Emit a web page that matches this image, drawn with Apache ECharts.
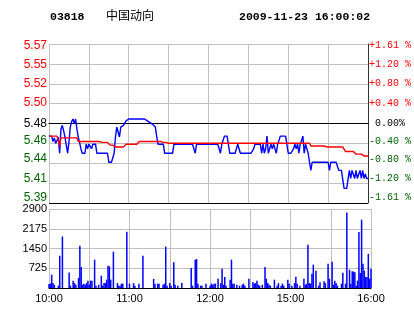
<!DOCTYPE html>
<html><head><meta charset="utf-8">
<script src="https://cdn.jsdelivr.net/npm/echarts@6/dist/echarts.min.js"></script>
<style>html,body{margin:0;padding:0;background:#fff}#c{width:414px;height:314px}</style>
</head><body><div id="c"></div>
<script>
const stockCode = '03818';
const stockName = '中国动向';
const stampText = '2009-11-23 16:00:02';
const prevClose = 5.48;
const pctRange = 1.61;
const volMax = 2900;

const priceTickLabels = ['5.39','5.41','5.44','5.46','5.48','5.50','5.52','5.55','5.57'];
const pctTickLabels = ['-1.61 %','-1.20 %','-0.80 %','-0.40 %',' 0.00%','+0.40 %','+0.80 %','+1.20 %','+1.61 %'];
const volTickLabels = ['', '725', '1450', '2175', '2900'];
const timeTickIndex = [0, 60, 120, 180, 240];
const timeTickText = ['10:00', '11:00', '12:00', '15:00', '16:00'];

// one category per trading minute: 10:00-12:30, 14:31-16:00
const times = [];
for (let i = 0; i <= 150; i++) { const t = 600 + i; times.push(String(Math.floor(t/60)).padStart(2,'0') + ':' + String(t%60).padStart(2,'0')); }
for (let i = 151; i <= 240; i++) { const t = 870 + (i - 150); times.push(String(Math.floor(t/60)).padStart(2,'0') + ':' + String(t%60).padStart(2,'0')); }

const price = [
5.466,5.466,5.466,5.460,5.464,5.458,5.461,5.465,5.447,5.474,
5.478,5.472,5.465,5.456,5.447,5.459,5.476,5.482,5.485,5.480,
5.485,5.474,5.465,5.459,5.452,5.447,5.447,5.447,5.457,5.452,
5.457,5.457,5.452,5.457,5.457,5.457,5.447,5.447,5.447,5.447,
5.447,5.447,5.447,5.447,5.447,5.437,5.437,5.437,5.437,5.447,
5.465,5.476,5.476,5.465,5.476,5.476,5.478,5.480,5.483,5.485,
5.485,5.485,5.485,5.485,5.485,5.485,5.485,5.485,5.485,5.485,
5.485,5.485,5.485,5.484,5.483,5.482,5.481,5.480,5.479,5.477,
5.476,5.466,5.457,5.457,5.457,5.457,5.457,5.447,5.447,5.447,
5.447,5.447,5.447,5.447,5.457,5.457,5.457,5.457,5.457,5.457,
5.457,5.457,5.457,5.457,5.457,5.457,5.457,5.457,5.457,5.457,
5.447,5.457,5.457,5.457,5.457,5.457,5.457,5.457,5.457,5.457,
5.457,5.457,5.457,5.457,5.457,5.457,5.457,5.457,5.457,5.447,
5.457,5.457,5.466,5.466,5.466,5.466,5.447,5.447,5.447,5.447,
5.447,5.447,5.457,5.452,5.447,5.447,5.447,5.447,5.447,5.447,
5.447,5.447,5.447,5.447,5.452,5.457,5.457,5.457,5.457,5.457,
5.447,5.457,5.447,5.452,5.466,5.447,5.452,5.457,5.452,5.457,
5.457,5.447,5.457,5.461,5.466,5.466,5.466,5.466,5.466,5.466,
5.447,5.447,5.447,5.447,5.452,5.457,5.452,5.457,5.447,5.457,
5.461,5.466,5.447,5.457,5.452,5.447,5.437,5.428,5.437,5.437,
5.437,5.437,5.437,5.437,5.437,5.437,5.437,5.437,5.437,5.437,
5.437,5.428,5.437,5.437,5.437,5.437,5.437,5.437,5.428,5.428,
5.428,5.428,5.408,5.408,5.408,5.408,5.428,5.419,5.428,5.428,
5.419,5.428,5.419,5.419,5.428,5.419,5.428,5.419,5.424,5.419,
5.419
];

const avgPrice = [
5.466,5.466,5.466,5.466,5.466,5.466,5.466,5.465,5.455,5.464,
5.464,5.464,5.464,5.464,5.464,5.464,5.464,5.464,5.464,5.464,
5.464,5.464,5.460,5.460,5.460,5.460,5.460,5.460,5.460,5.460,
5.460,5.460,5.460,5.460,5.460,5.460,5.460,5.460,5.460,5.459,
5.459,5.459,5.459,5.459,5.459,5.459,5.456,5.456,5.456,5.456,
5.454,5.454,5.454,5.454,5.454,5.454,5.454,5.456,5.457,5.457,
5.457,5.457,5.457,5.457,5.457,5.457,5.457,5.457,5.460,5.460,
5.460,5.460,5.460,5.460,5.460,5.460,5.460,5.460,5.460,5.460,
5.460,5.460,5.460,5.460,5.460,5.459,5.459,5.459,5.459,5.459,
5.458,5.458,5.458,5.458,5.458,5.458,5.458,5.458,5.458,5.458,
5.458,5.458,5.458,5.458,5.458,5.458,5.458,5.458,5.458,5.458,
5.458,5.458,5.458,5.458,5.458,5.458,5.458,5.458,5.458,5.458,
5.458,5.458,5.458,5.458,5.458,5.458,5.458,5.458,5.458,5.458,
5.458,5.458,5.458,5.458,5.458,5.458,5.458,5.458,5.458,5.458,
5.458,5.458,5.458,5.458,5.458,5.458,5.458,5.458,5.458,5.458,
5.458,5.458,5.458,5.458,5.458,5.458,5.458,5.458,5.458,5.458,
5.458,5.458,5.458,5.458,5.458,5.458,5.458,5.458,5.458,5.458,
5.458,5.458,5.458,5.458,5.458,5.458,5.458,5.458,5.458,5.458,
5.458,5.458,5.458,5.458,5.458,5.458,5.458,5.458,5.458,5.458,
5.458,5.458,5.458,5.458,5.458,5.458,5.458,5.455,5.455,5.455,
5.455,5.455,5.455,5.455,5.455,5.455,5.455,5.455,5.454,5.454,
5.454,5.454,5.454,5.454,5.454,5.454,5.454,5.454,5.454,5.454,
5.454,5.454,5.454,5.449,5.449,5.449,5.449,5.449,5.449,5.449,
5.449,5.446,5.446,5.446,5.446,5.446,5.446,5.444,5.444,5.444,
5.444
];

const volume = [
150,160,490,180,120,0,0,85,1186,0,
1890,0,0,0,0,570,85,0,270,180,
120,0,367,1553,770,120,160,120,180,270,
120,270,270,0,1040,85,0,120,0,452,
85,180,180,306,820,795,306,0,1333,0,
0,180,85,85,160,160,0,0,2067,0,
160,0,0,180,85,0,0,160,0,0,
1186,0,0,0,0,0,0,0,330,160,
0,160,160,0,0,120,160,1517,85,0,
180,85,0,942,120,0,85,0,0,180,
0,0,0,0,0,0,734,85,0,1040,
1064,160,0,85,85,0,0,160,0,0,
85,160,120,160,160,0,342,0,180,710,
120,404,85,0,0,306,1040,160,160,0,
120,0,85,0,120,160,85,0,0,342,
0,0,220,160,180,270,120,85,0,120,
0,770,342,180,120,85,0,0,306,0,
85,180,0,85,160,85,0,0,306,160,
0,85,0,180,416,160,0,85,0,0,
342,120,160,1590,180,160,526,856,0,636,
0,85,210,0,0,245,180,0,893,342,
0,966,120,270,180,85,0,0,160,563,
0,160,2776,0,672,160,611,600,575,85,
270,2055,550,2507,893,636,404,404,1250,342,
710
];

const RED = '#ff0000', GREEN = '#006400', BLACK = '#000000', GRAY = '#c0c0c0';
const labelColors = [GREEN, GREEN, GREEN, GREEN, BLACK, RED, RED, RED, RED];
const labelShift = [5.5, 4.5, 4.3, 2.4, 0, 0.6, 0.3, -0.6, -1.5];
const step = pctRange / 4;
const idxOf = v => Math.round((v + pctRange) / step);

function richFor(font) {
  const r = {};
  for (let i = 0; i < 9; i++) {
    const d = labelShift[i];
    r['n' + i] = {
      color: labelColors[i],
      fontFamily: font.family, fontSize: font.size,
      padding: d >= 0 ? [0, 0, 2 * d, 0] : [-2 * d, 0, 0, 0]
    };
  }
  return r;
}

const chart = echarts.init(document.getElementById('c'), null, { renderer: 'canvas' });
chart.setOption({
  animation: false,
  backgroundColor: '#ffffff',
  graphic: [
    { type: 'text', x: 50, y: 17, style: { text: stockCode, font: 'bold 11.5px "Liberation Mono"', fill: '#000', verticalAlign: 'middle' } },
    { type: 'text', x: 106, y: 15, style: { text: stockName, font: '12px "Noto Sans CJK SC"', fill: '#000', verticalAlign: 'middle' } },
    { type: 'text', x: 239, y: 17, style: { text: stampText, font: 'bold 11.5px "Liberation Mono"', fill: '#000', verticalAlign: 'middle' } }
  ],
  grid: [
    { left: 49, right: 43, top: 44, height: 159 },
    { left: 49, right: 43, top: 209, height: 79 }
  ],
  xAxis: [
    { type: 'category', gridIndex: 0, data: times, boundaryGap: false,
      axisLine: { show: true, lineStyle: { color: BLACK, width: 1 } },
      axisTick: { show: false }, axisLabel: { show: false },
      splitLine: { show: true, interval: (i) => i % 30 === 0, lineStyle: { color: GRAY, width: 1 } } },
    { type: 'category', gridIndex: 1, data: times, boundaryGap: false,
      axisLine: { show: true, lineStyle: { color: BLACK, width: 1 } },
      axisTick: { show: false },
      axisLabel: { show: true, interval: (i) => timeTickIndex.indexOf(i) >= 0,
        formatter: (v, i) => { const k = timeTickIndex.indexOf(i); return k >= 0 ? timeTickText[k] : ''; },
        color: '#000', fontFamily: 'Liberation Sans', fontSize: 11, margin: 5 },
      splitLine: { show: true, interval: (i) => i % 30 === 0, lineStyle: { color: GRAY, width: 1 } } }
  ],
  yAxis: [
    { type: 'value', gridIndex: 0, position: 'left', min: -pctRange, max: pctRange, interval: step,
      axisLine: { show: false }, axisTick: { show: false },
      axisLabel: { margin: 2, formatter: v => { const i = idxOf(v); return '{n' + i + '|' + priceTickLabels[i] + '}'; },
        rich: richFor({ family: 'Liberation Sans', size: 12 }) },
      splitLine: { show: true, lineStyle: { color: [BLACK, GRAY, GRAY, GRAY, BLACK, GRAY, GRAY, GRAY, GRAY], width: 1 } } },
    { type: 'value', gridIndex: 0, position: 'right', min: -pctRange, max: pctRange, interval: step,
      axisLine: { show: true, lineStyle: { color: '#333333', width: 1 } }, axisTick: { show: false },
      axisLabel: { margin: 1, formatter: v => { const i = idxOf(v); return '{n' + i + '|' + pctTickLabels[i] + '}'; },
        rich: richFor({ family: 'Liberation Mono', size: 10 }) },
      splitLine: { show: false } },
    { type: 'value', gridIndex: 0, show: false,
      min: prevClose * (1 - pctRange / 100), max: prevClose * (1 + pctRange / 100) },
    { type: 'value', gridIndex: 1, position: 'left', min: 0, max: volMax, interval: volMax / 4,
      axisLine: { show: false }, axisTick: { show: false },
      axisLabel: { margin: 2, padding: [5, 0, 0, 0], color: '#000', fontFamily: 'Liberation Sans', fontSize: 11,
        formatter: v => volTickLabels[Math.round(v / (volMax / 4))] },
      splitLine: { show: true, lineStyle: { color: GRAY, width: 1 } } }
  ],
  series: [
    { name: 'price', type: 'line', xAxisIndex: 0, yAxisIndex: 2, data: price,
      showSymbol: false, symbol: 'none', lineStyle: { color: '#0000ff', width: 1.4 }, z: 3 },
    { name: 'avg', type: 'line', xAxisIndex: 0, yAxisIndex: 2, data: avgPrice,
      showSymbol: false, symbol: 'none', lineStyle: { color: '#ff0000', width: 1.4 }, z: 4 },
    { name: 'volume', type: 'bar', xAxisIndex: 1, yAxisIndex: 3, data: volume,
      barWidth: 1.5, itemStyle: { color: '#0000ff' }, z: 3 }
  ]
});
</script>
</body></html>
